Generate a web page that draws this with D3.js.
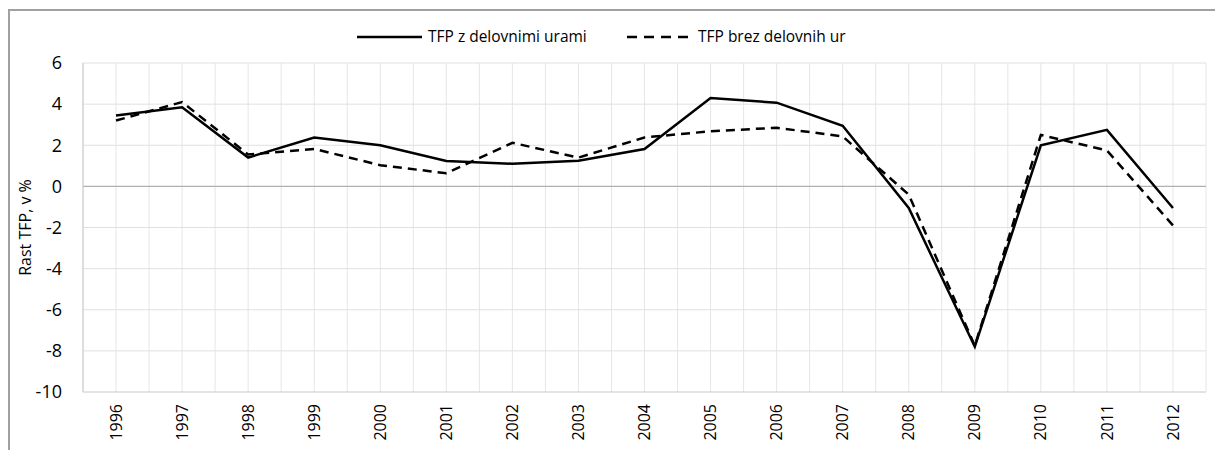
<!DOCTYPE html>
<html>
<head>
<meta charset="utf-8">
<script src="https://cdn.jsdelivr.net/npm/d3@7"></script>
<style>
  body { margin: 0; background: #fff; }
  svg { display: block; font-family: "Open Sans", "Noto Sans", sans-serif; }
</style>
</head>
<body>
<div id="chart"></div>
<script>
const years = ["1996", "1997", "1998", "1999", "2000", "2001", "2002", "2003", "2004",
  "2005", "2006", "2007", "2008", "2009", "2010", "2011", "2012"];
const withHours = [3.45, 3.85, 1.4, 2.38, 2.0, 1.23, 1.1, 1.25, 1.82, 4.3, 4.07, 2.95, -1.05, -7.8, 2.0, 2.75, -1.05];
const withoutHours = [3.2, 4.1, 1.55, 1.82, 1.03, 0.64, 2.12, 1.4, 2.38, 2.68, 2.85, 2.43, -0.4, -7.75, 2.5, 1.75, -1.9];
const yTicks = [6, 4, 2, 0, -2, -4, -6, -8, -10];
const seriesNames = ["TFP z delovnimi urami", "TFP brez delovnih ur"];
const yTitle = "Rast TFP, v %";

const width = 1215, height = 450;
const plot = { left: 83, right: 1206, top: 63, bottom: 392 };

const svg = d3.select("#chart").append("svg")
  .attr("width", width)
  .attr("height", height);

// outer frame (clipped at right/bottom like the source)
svg.append("rect")
  .attr("x", 9).attr("y", 10)
  .attr("width", 1220).attr("height", 460)
  .attr("fill", "none")
  .attr("stroke", "#a0a0a0")
  .attr("stroke-width", 2);

const x = d3.scaleBand().domain(years).range([plot.left, plot.right]).padding(0);
const y = d3.scaleLinear().domain([-10, 6]).range([plot.bottom, plot.top]);

// vertical grid: band edges and band centres
const vLines = [];
years.forEach(d => { vLines.push(x(d)); vLines.push(x(d) + x.bandwidth() / 2); });
vLines.push(plot.right);
svg.append("g").selectAll("line")
  .data(vLines)
  .enter().append("line")
  .attr("x1", d => d).attr("x2", d => d)
  .attr("y1", plot.top).attr("y2", plot.bottom)
  .attr("stroke", "#e6e6e6")
  .attr("stroke-width", 1);

// horizontal grid
svg.append("g").selectAll("line")
  .data(yTicks)
  .enter().append("line")
  .attr("x1", plot.left).attr("x2", plot.right)
  .attr("y1", d => y(d)).attr("y2", d => y(d))
  .attr("stroke", d => d === 0 ? "#b0b0b0" : (d === -10 ? "#c8c8c8" : "#e0e0e0"))
  .attr("stroke-width", d => d === 0 ? 1.2 : 1);

// left axis line
svg.append("line")
  .attr("x1", plot.left).attr("x2", plot.left)
  .attr("y1", plot.top).attr("y2", plot.bottom)
  .attr("stroke", "#c8c8c8");

// y tick labels
svg.append("g").selectAll("text")
  .data(yTicks)
  .enter().append("text")
  .attr("x", 62)
  .attr("y", d => y(d))
  .attr("dy", "0.35em")
  .attr("text-anchor", "end")
  .style("font-size", "18px")
  .style("fill", "#000")
  .text(d => d);

// x tick labels
svg.append("g").selectAll("text")
  .data(years)
  .enter().append("text")
  .attr("transform", d => `translate(${x(d) + x.bandwidth() / 2},404) rotate(-90)`)
  .attr("dy", "0.35em")
  .attr("text-anchor", "end")
  .style("font-size", "16px")
  .style("fill", "#000")
  .text(d => d);

// y title
svg.append("text")
  .attr("transform", `translate(25,${(plot.top + plot.bottom) / 2}) rotate(-90)`)
  .attr("dy", "0.35em")
  .attr("text-anchor", "middle")
  .style("font-size", "16px")
  .text(yTitle);

const line = d3.line()
  .x((d, i) => x(years[i]) + x.bandwidth() / 2)
  .y(d => y(d));

svg.append("path")
  .datum(withoutHours)
  .attr("d", line)
  .attr("fill", "none")
  .attr("stroke", "#000")
  .attr("stroke-width", 2.5)
  .attr("stroke-dasharray", "9,6");

svg.append("path")
  .datum(withHours)
  .attr("d", line)
  .attr("fill", "none")
  .attr("stroke", "#000")
  .attr("stroke-width", 2.5);

// legend
const legend = svg.append("g");
const legendItems = [
  { name: seriesNames[0], x1: 357, x2: 422, tx: 428, dash: null },
  { name: seriesNames[1], x1: 627, x2: 689, tx: 698, dash: "10,7" }
];
legendItems.forEach(it => {
  legend.append("line")
    .attr("x1", it.x1).attr("x2", it.x2)
    .attr("y1", 37).attr("y2", 37)
    .attr("stroke", "#000")
    .attr("stroke-width", 2.5)
    .attr("stroke-dasharray", it.dash);
  legend.append("text")
    .attr("x", it.tx).attr("y", 37)
    .attr("dy", "0.35em")
    .style("font-size", "15.5px")
    .text(it.name);
});
</script>
</body>
</html>
